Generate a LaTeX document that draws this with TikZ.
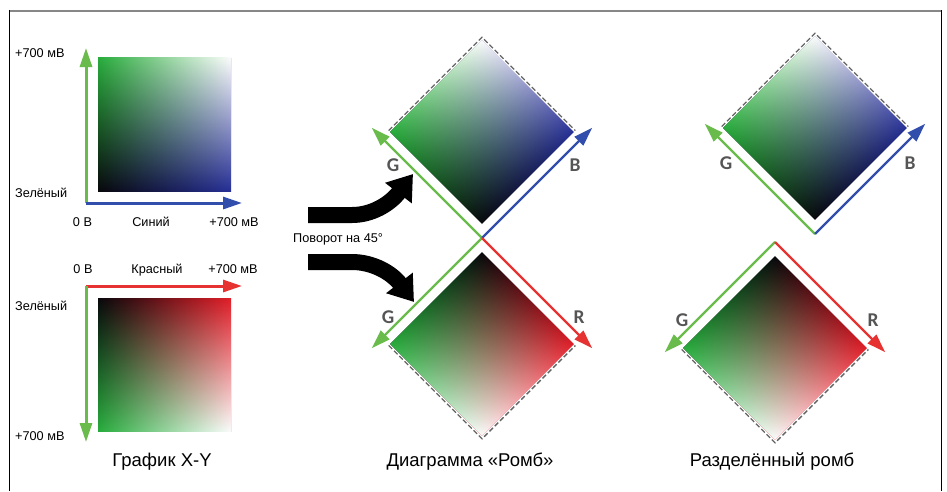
\documentclass[tikz,border=0pt]{standalone}
\usepackage{fontspec}
\setmainfont{Liberation Sans}
\newfontfamily\lblfont{Carlito}
\usetikzlibrary{arrows.meta,fadings}
\definecolor{cGreen}{RGB}{40,172,60}
\definecolor{cBlue}{RGB}{38,48,150}
\definecolor{cRed}{RGB}{225,30,40}
\definecolor{cBlack}{RGB}{8,8,12}
\definecolor{cWhite}{RGB}{252,252,252}
\definecolor{axGreen}{RGB}{105,188,75}
\definecolor{axBlue}{RGB}{50,78,172}
\definecolor{axRed}{RGB}{230,50,48}
\definecolor{dashGray}{RGB}{100,100,100}
\definecolor{lblGray}{RGB}{85,85,85}
\definecolor{frameGray}{RGB}{135,135,135}
\tikzfading[name=fadetop, top color=transparent!0, bottom color=transparent!100]
\tikzfading[name=fadebottom, top color=transparent!100, bottom color=transparent!0]
\tikzset{
  lbl/.style={font=\fontsize{12.7}{14}\selectfont, inner sep=0pt, anchor=base},
  captxt/.style={font=\fontsize{18.5}{20}\selectfont, inner sep=0pt, anchor=base},
  ltr/.style={font=\lblfont\bfseries\fontsize{19.5}{20}\selectfont, text=lblGray, inner sep=0pt},
  axisG/.style={draw=axGreen, line width=#1, -{Triangle[length=19pt,width=12pt]}},
  axisB/.style={draw=axBlue, line width=#1, -{Triangle[length=19pt,width=12pt]}},
  axisR/.style={draw=axRed, line width=#1, -{Triangle[length=19pt,width=12pt]}},
  dsh/.style={draw=dashGray, line width=1.3pt, dash pattern=on 5pt off 2.5pt},
  blk/.style={draw=black, line width=16pt, -{Triangle[length=24pt,width=32pt]}},
}
% GB square: origin at axes crossing, green up, blue right (pixel coords, y down)
\newcommand\gbsq[2]{%
  \shade[left color=cBlack, right color=cBlue] (#1,-#1) rectangle ++(#2,-#2);
  \shade[left color=cGreen, right color=cWhite, path fading=fadetop] (#1,-#1) rectangle ++(#2,-#2);
}
% GR square: red right, green down
\newcommand\grsq[2]{%
  \shade[left color=cBlack, right color=cRed] (#1,#1) rectangle ++(#2,#2);
  \shade[left color=cGreen, right color=cWhite, path fading=fadebottom] (#1,#1) rectangle ++(#2,#2);
}
\newcommand\gbdash[2]{%
  \draw[dsh] (#1,{-(#1+#2+2)}) -- ({#1+#2+2},{-(#1+#2+2)}) -- ({#1+#2+2},-#1);
}
\newcommand\grdash[2]{%
  \draw[dsh] (#1,{#1+#2+2}) -- ({#1+#2+2},{#1+#2+2}) -- ({#1+#2+2},#1);
}
\begin{document}
\begin{tikzpicture}[x=1pt,y=-1pt]
\useasboundingbox (0,0) rectangle (947,491);
\fill[white] (0,0) rectangle (947,491);

% frame
\draw[frameGray, line width=2pt] (9,10.5) -- (941.5,10.5);
\draw[black, line width=1.4pt] (9.3,10) -- (9.3,491);
\draw[black, line width=1.4pt] (941.3,10) -- (941.3,491);

% ---------- left: X-Y plots ----------
\begin{scope}[shift={(86,203)}]
  \gbsq{12}{133}
  \draw[axisG=3pt] (0,0) -- (0,-155);
  \draw[axisB=3pt] (0,0) -- (156,0);
\end{scope}
\begin{scope}[shift={(86,286)}]
  \grsq{12}{133}
  \draw[axisR=3pt] (0,0) -- (156,0);
  \draw[axisG=3pt] (0,0) -- (0,156);
\end{scope}

\node[lbl, anchor=base west] (t700a) at (15,57.5) {+700 мВ};
\node[lbl, anchor=base west] (tz1) at (15,197) {Зелёный};
\node[lbl] (t0a) at (82.5,226) {0 В};
\node[lbl] (tsin) at (151,226) {Синий};
\node[lbl] (t700b) at (234,226) {+700 мВ};

\node[lbl] (t0b) at (83,273.5) {0 В};
\node[lbl] (tkr) at (157,273.5) {Красный};
\node[lbl] (t700c) at (233,273.5) {+700 мВ};
\node[lbl, anchor=base west] (tz2) at (15,310) {Зелёный};
\node[lbl, anchor=base west] (t700d) at (15,440) {+700 мВ};

\node[captxt] (c1) at (162,466.5) {График X-Y};

% ---------- middle: rhombus diagram ----------
\begin{scope}[transform canvas={shift={(482,238)},rotate=45}]
  \gbsq{10}{130}
  \gbdash{10}{130}
  \draw[axisG=2.2pt] (0,0) -- (0,-156);
  \draw[axisB=2.2pt] (0,0) -- (156,0);
\end{scope}
\begin{scope}[transform canvas={shift={(482,238)},rotate=-45}]
  \grsq{10}{130}
  \grdash{10}{130}
  \draw[axisG=2.2pt] (0,0) -- (0,156);
  \draw[axisR=2.2pt] (0,0) -- (156,0);
\end{scope}
\node[ltr] (g1) at (393,165) {G};
\node[ltr] (b1) at (575,165) {B};
\node[ltr] (g2) at (388,317) {G};
\node[ltr] (r1) at (579,317) {R};

% black rotation arrows
\coordinate (ua0) at (308,215);
\coordinate (ua1) at (413,174);
\coordinate (la0) at (308,262);
\coordinate (la1) at (414,302);
\draw[blk] (ua0) -- ++(44,0) .. controls +(20,0) and (390,204) .. (ua1);
\draw[blk] (la0) -- ++(44,0) .. controls +(20,0) and (391,272) .. (la1);
\node[lbl, anchor=base west] (rot) at (293,242.5) {Поворот на 45°};

\node[captxt] (c2) at (470,466) {Диаграмма «Ромб»};

% ---------- right: split rhombus ----------
\begin{scope}[transform canvas={shift={(815,234)},rotate=45}]
  \gbsq{10}{130}
  \gbdash{10}{130}
  \draw[axisG=2.2pt] (0,0) -- (0,-156);
  \draw[axisB=2.2pt] (0,0) -- (156,0);
\end{scope}
\begin{scope}[transform canvas={shift={(775,242)},rotate=-45}]
  \grsq{10}{130}
  \grdash{10}{130}
  \draw[axisG=2.2pt] (0,0) -- (0,156);
  \draw[axisR=2.2pt] (0,0) -- (156,0);
\end{scope}
\node[ltr] (g3) at (726,163) {G};
\node[ltr] (b2) at (910,163) {B};
\node[ltr] (g4) at (682,320) {G};
\node[ltr] (r2) at (873,320) {R};

\node[captxt] (c3) at (772,466) {Разделённый ромб};
\end{tikzpicture}
\end{document}
